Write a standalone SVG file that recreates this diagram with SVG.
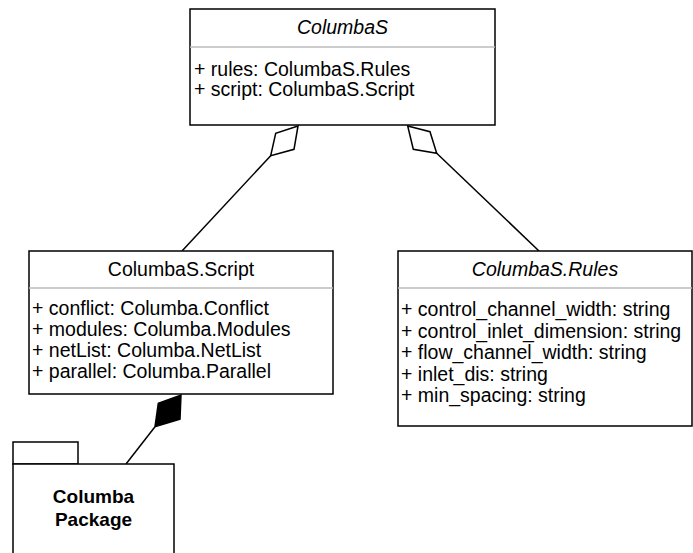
<svg xmlns="http://www.w3.org/2000/svg" width="693" height="553" viewBox="0 0 693 553">
<style>
.box{fill:#fff;stroke:#000;stroke-width:1.5}
.div{stroke:#bbb;stroke-width:1.5}
.t{font-family:"Liberation Sans",Arial,sans-serif;font-size:19.5px;fill:#000}
.i{font-style:italic}
.c{text-anchor:middle}
.b{font-weight:bold;font-size:19px}
.ln{fill:none;stroke:#000;stroke-width:1.5}
</style>
<rect width="693" height="553" fill="#fff"/>
<g id="connectors">
<polygon class="ln" points="298,126 275.7,133.3 270.7,155.7 294,149.3" fill="#fff"/>
<line class="ln" x1="270.7" y1="155.7" x2="182" y2="251"/>
<polygon class="ln" points="407.7,126 430,131.7 436.7,153.3 413.3,149.3" fill="#fff"/>
<line class="ln" x1="436.7" y1="153.3" x2="539" y2="251"/>
<polygon points="181,395 180,419.3 155,426.7 158.3,403.3" fill="#000" stroke="#000" stroke-width="1.5"/>
<line class="ln" x1="155" y1="426.7" x2="126" y2="464"/>
</g>
<g id="columbaS">
<rect class="box" x="190" y="9" width="305" height="116"/>
<line class="div" x1="190" y1="47" x2="495" y2="47"/>
<text class="t i c" x="342.5" y="34">ColumbaS</text>
<text class="t" x="194" y="76">+ rules: ColumbaS.Rules</text>
<text class="t" x="194" y="96">+ script: ColumbaS.Script</text>
</g>
<g id="script">
<rect class="box" x="29" y="251" width="304" height="143"/>
<line class="div" x1="29" y1="288" x2="333" y2="288"/>
<text class="t c" x="181" y="276">ColumbaS.Script</text>
<text class="t" x="32" y="315">+ conflict: Columba.Conflict</text>
<text class="t" x="32" y="336">+ modules: Columba.Modules</text>
<text class="t" x="32" y="357">+ netList: Columba.NetList</text>
<text class="t" x="32" y="378">+ parallel: Columba.Parallel</text>
</g>
<g id="rules">
<rect class="box" x="398" y="251" width="294" height="175"/>
<line class="div" x1="398" y1="288" x2="692" y2="288"/>
<text class="t i c" x="545" y="276">ColumbaS.Rules</text>
<text class="t" x="401" y="316">+ control_channel_width: string</text>
<text class="t" x="401" y="337.5">+ control_inlet_dimension: string</text>
<text class="t" x="401" y="359">+ flow_channel_width: string</text>
<text class="t" x="401" y="380.5">+ inlet_dis: string</text>
<text class="t" x="401" y="402">+ min_spacing: string</text>
</g>
<g id="package">
<rect class="box" x="13" y="442" width="65" height="22"/>
<rect class="box" x="13" y="464" width="161" height="100"/>
<text class="t b c" x="93.5" y="503">Columba</text>
<text class="t b c" x="93.5" y="526">Package</text>
</g>
</svg>
